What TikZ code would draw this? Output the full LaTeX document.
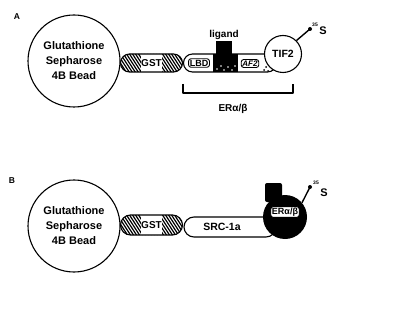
\documentclass[tikz,border=0pt]{standalone}
\usepackage{fontspec}
\setmainfont{Liberation Sans}
\usetikzlibrary{shapes.misc}
\begin{document}
\begin{tikzpicture}[x=1pt,y=-1pt,line join=round,
  panellabel/.style={font=\bfseries\fontsize{8.5}{10}\selectfont, inner sep=0pt},
  bead/.style={circle, draw, line width=1.1pt, minimum size=92pt, inner sep=0pt, align=center, font=\bfseries\fontsize{11}{15}\selectfont},
  capsule/.style={rounded rectangle, draw, line width=1.1pt, fill=white, inner sep=0pt, minimum height=18pt},
  gstcap/.style={capsule, minimum width=62pt, font=\bfseries\fontsize{10}{12}\selectfont,
     path picture={
       \foreach \k in {-52,-49,...,34} \draw[line width=1.2pt] ([xshift=\k pt]path picture bounding box.north) -- ++(13,20);
       \fill[white] ([xshift=-10.5pt]path picture bounding box.north) rectangle ([xshift=10.5pt]path picture bounding box.south);
     }},
  lbl/.style={draw, fill=white, rounded corners=2.5pt, line width=0.9pt, inner sep=1.2pt, font=\bfseries\fontsize{9}{11}\selectfont},
  txt/.style={inner sep=0pt, font=\bfseries\fontsize{10}{12}\selectfont},
  iso/.style={line width=1.4pt},
  sup/.style={inner sep=0pt, font=\bfseries\fontsize{5}{6}\selectfont},
  ess/.style={inner sep=0pt, font=\bfseries\fontsize{11}{13}\selectfont}
]
\useasboundingbox (0,0) rectangle (411,320);
% ---------- Panel A ----------
\node[panellabel] (labA) at (17,17) {A};
\node[bead] (beadA) at (74,61) {Glutathione\\Sepharose\\4B Bead};
\node[gstcap] (gstA) at (151.5,63) {GST};
\node[capsule, minimum width=93pt] (erA) at (230,63) {};
\fill (213,54) rectangle (238,72);
\fill (216,41) rectangle (232,55);
\foreach \p in {(217,69),(221,66),(224,70),(228,67),(232,70),(235,66)} \fill[white] \p circle (0.8pt);
\node[txt] (ligand) at (224,35) {ligand};
\node[lbl] (lbd) at (199,63) {LBD};
\node[lbl, font=\bfseries\itshape\fontsize{8}{10}\selectfont] (af2) at (250,63.5) {AF2};
\foreach \p in {(264,70),(266,67),(268,71)} \fill \p circle (1pt);
\node[circle, draw, fill=white, line width=1.1pt, minimum size=37pt, inner sep=0pt, font=\bfseries\fontsize{10.5}{12}\selectfont] (tif2) at (283,54) {TIF2};
\coordinate (isoA) at (310,29);
\draw[iso] (tif2.45) -- (isoA);
\fill (isoA) circle (2pt);
\node[sup] (s35a) at (315,25) {35};
\node[ess] (sA) at (323,31) {S};
\draw[line width=1.2pt] (183,84) -- (183,93) -- (293,93) -- (293,84);
\node[txt] (erlabA) at (233,109) {ERα/β};
% ---------- Panel B ----------
\node[panellabel] (labB) at (12,181) {B};
\node[bead] (beadB) at (74,226) {Glutathione\\Sepharose\\4B Bead};
\node[gstcap, minimum height=20pt] (gstB) at (151.5,225) {GST};
\node[capsule, minimum width=92pt, minimum height=20pt] (src) at (230,227) {};
\node[txt, font=\bfseries\fontsize{10.5}{12}\selectfont] (srclab) at (222,227) {SRC-1a};
\fill[rounded corners=2pt] (265,183) rectangle (282,202);
\node[circle, fill=black, minimum size=44pt, inner sep=0pt] (erB) at (285,217) {};
\node[lbl] (erlabB) at (285,212) {ERα/β};
\coordinate (isoB) at (310,187);
\draw[iso] (erB.40) -- (isoB);
\fill (isoB) circle (2pt);
\node[sup] (s35b) at (316,183) {35};
\node[ess] (sB) at (324,193) {S};
\end{tikzpicture}
\end{document}
